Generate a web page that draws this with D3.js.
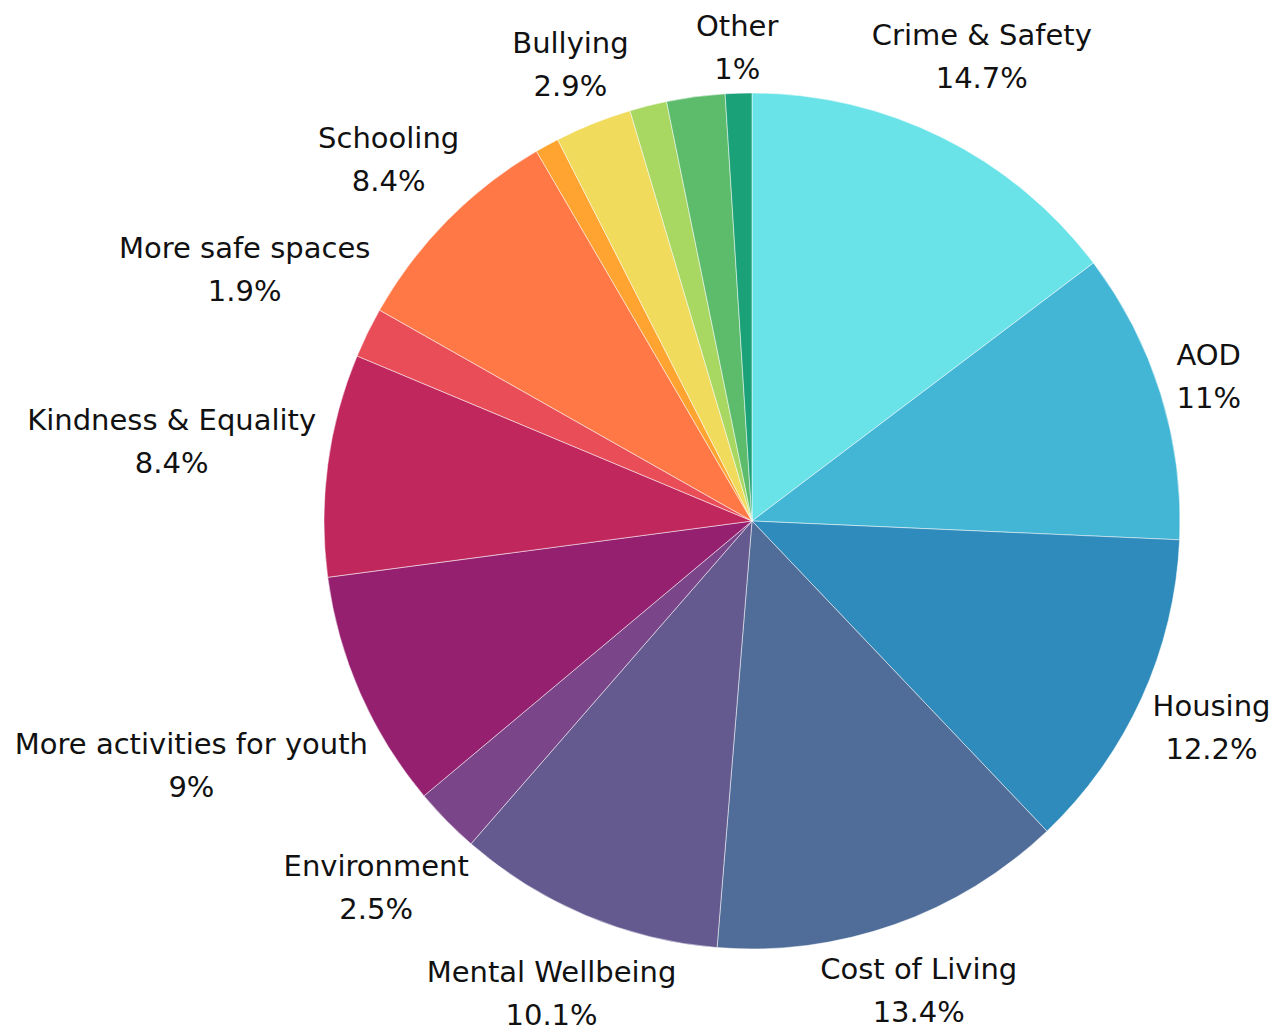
<!DOCTYPE html>
<html>
<head>
<meta charset="utf-8">
<script src="https://cdn.jsdelivr.net/npm/d3@7"></script>
<style>
  body { margin: 0; background: #fff; }
  text { font-family: "DejaVu Sans", sans-serif; fill: #111; }
</style>
</head>
<body>
<div id="chart"></div>
<script>
var svgWidth = 1288;
var svgHeight = 1033;

// slices, clockwise from 12 o'clock ("" = slice drawn without a label)
var categories = ["Crime & Safety", "AOD", "Housing", "Cost of Living", "Mental Wellbeing",
  "Environment", "More activities for youth", "Kindness & Equality", "More safe spaces",
  "Schooling", "", "Bullying", "", "", "Other"];
var values = [14.7, 11, 12.2, 13.4, 10.1, 2.5, 9, 8.4, 1.9, 8.4, 0.9, 2.9, 1.4, 2.2, 1];
var colors = ["#6ae3e8", "#43b6d6", "#2e8bbb", "#4f6d98", "#645a8f", "#7b4589", "#962070",
  "#c0275d", "#e84d58", "#ff7845", "#ffa431", "#f0db5c", "#a8d762", "#5dbc6c", "#1aa177"];

var cx = 752, cy = 521;
var radius = 428;
var labelGap = 10;

var data = categories.map(function(c, i) {
  return { name: c, value: values[i], color: colors[i] };
});

var svg = d3.select("#chart")
  .append("svg")
    .attr("width", svgWidth)
    .attr("height", svgHeight);

var chartGroup = svg.append("g")
  .attr("transform", `translate(${cx}, ${cy})`);

var pie = d3.pie()
  .sort(null)
  .value(d => d.value);

var arc = d3.arc()
  .innerRadius(0)
  .outerRadius(radius);

var arcs = pie(data);

chartGroup.selectAll("path")
  .data(arcs)
  .enter()
  .append("path")
  .attr("d", arc)
  .attr("fill", d => d.data.color)
  .attr("stroke", "#fff")
  .attr("stroke-width", 0.5);

// labels: two lines, pushed out along the mid angle until the box clears the rim
var labels = chartGroup.selectAll(".lbl")
  .data(arcs.filter(d => d.data.name !== ""))
  .enter()
  .append("text")
  .attr("class", "lbl")
  .attr("text-anchor", "middle")
  .attr("font-size", 29);

labels.append("tspan")
  .attr("x", 0)
  .attr("y", -14)
  .text(d => d.data.name);

labels.append("tspan")
  .attr("x", 0)
  .attr("y", 29)
  .text(d => d.data.value + "%");

labels.each(function(d) {
  var box = this.getBBox();
  var hw = box.width / 2, hh = 32;
  var a = (d.startAngle + d.endAngle) / 2;
  var ux = Math.sin(a), uy = -Math.cos(a);
  var dist = radius + labelGap + hw * Math.abs(ux) + hh * Math.abs(uy);
  d3.select(this).attr("transform", `translate(${ux * dist}, ${uy * dist})`);
});
</script>
</body>
</html>
